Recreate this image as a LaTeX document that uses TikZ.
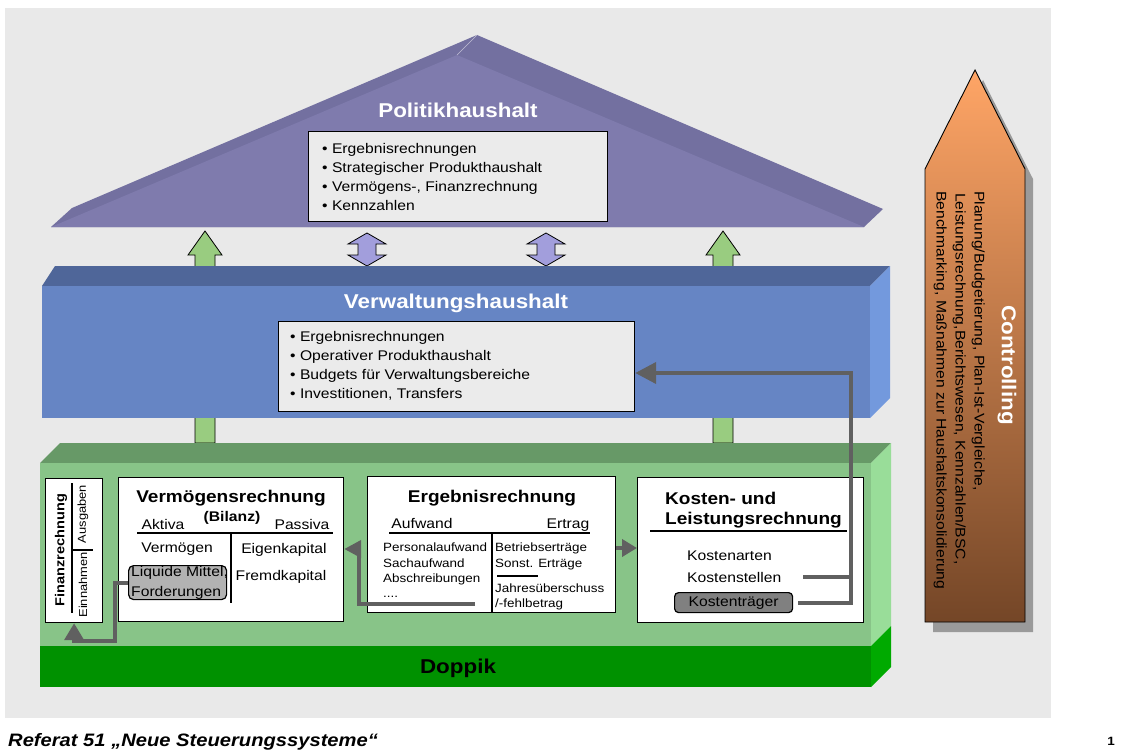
\documentclass[tikz,border=0pt]{standalone}
\usepackage{fontspec}
\setmainfont[FakeStretch=1.12]{Liberation Sans}
\usetikzlibrary{arrows.meta}
\definecolor{bgpanel}{HTML}{E9E9E9}
\definecolor{roofFront}{HTML}{7F7BAD}
\definecolor{roofDark}{HTML}{7370A0}
\definecolor{vFront}{HTML}{6685C4}
\definecolor{vTop}{HTML}{4F6699}
\definecolor{vSide}{HTML}{7399DD}
\definecolor{gFront}{HTML}{88C488}
\definecolor{gTop}{HTML}{679967}
\definecolor{gSide}{HTML}{99DD99}
\definecolor{dFront}{HTML}{009100}
\definecolor{dSide}{HTML}{00AA00}
\definecolor{arrGreen}{HTML}{99CC80}
\definecolor{arrPurple}{HTML}{A29EDC}
\definecolor{connGray}{HTML}{606060}
\definecolor{listBg}{HTML}{EBEBEB}
\definecolor{cTop}{HTML}{FFA566}
\definecolor{cBot}{HTML}{744627}
\definecolor{shadowGray}{HTML}{9A9A9A}
\definecolor{liqGray}{HTML}{B2B2B2}
\definecolor{ktGray}{HTML}{808080}
\newcommand\fsz[1]{\fontsize{#1}{#1}\selectfont}
\begin{document}
\begin{tikzpicture}[x=1pt,y=-1pt,
  wbox/.style={draw=black,fill=white,line width=1.2,inner sep=0,anchor=north west},
  lbox/.style={draw=black,fill=listBg,line width=1.2,inner sep=0,anchor=north west},
  txt/.style={inner sep=0,anchor=west,text height=10,text depth=3,font=\fsz{14}},
  small/.style={inner sep=0,anchor=west,text height=9,text depth=2.5,font=\fsz{12}},
  ctxt/.style={inner sep=0,text height=10,text depth=3,font=\fsz{14}},
  head/.style={inner sep=0,font=\bfseries\fsz{17}},
  bigtitle/.style={inner sep=0,font=\bfseries\fsz{20}},
  thin/.style={draw=black,line width=1.2},
  conn/.style={draw=connGray,line width=4},
  gArr/.style={fill=arrGreen,draw=black,line width=0.8},
  pArr/.style={fill=arrPurple,draw=black,line width=0.8},
  ctr/.style={inner sep=0,anchor=west,rotate=-90,font=\fsz{14},text height=10,text depth=3}
]
\useasboundingbox (0,0) rectangle (1125,752);
\fill[white] (0,0) rectangle (1125,752);
\fill[bgpanel] (5,8) rectangle (1051,718);

% ---------- roof ----------
\fill[roofDark] (51,227) -- (72,208) -- (477,35) -- (883,209) -- (864,227) -- cycle;
\fill[roofFront] (51,227) -- (457,55) -- (864,227) -- cycle;
\draw[white!55!roofDark,line width=0.6] (457,55) -- (477,35);
\node[bigtitle,text=white] (pt) at (458,110) {Politikhaushalt};
\node[lbox,minimum width=299,minimum height=90] (pl) at (308,131) {};
\node[txt] (pl1) at (322,150) {• Ergebnisrechnungen};
\node[txt] (pl2) at (322,169) {• Strategischer Produkthaushalt};
\node[txt] (pl3) at (322,188) {• Vermögens-, Finanzrechnung};
\node[txt] (pl4) at (322,207) {• Kennzahlen};

% ---------- green up arrows (behind blocks) ----------
\foreach \cx in {205,723}{
  \begin{scope}[shift={(\cx,0)}]
    \draw[gArr] (-10,443) -- (-10,255) -- (-17,255) -- (0,231) -- (17,255) -- (10,255) -- (10,443) -- cycle;
  \end{scope}
}
% ---------- purple double arrows ----------
\foreach \cx in {367,546}{
  \begin{scope}[shift={(\cx,0)}]
    \draw[pArr] (0,233) -- (19,244) -- (9,244) -- (9,255) -- (19,255) -- (0,266) -- (-19,255) -- (-9,255) -- (-9,244) -- (-19,244) -- cycle;
  \end{scope}
}

% ---------- Verwaltungshaushalt block ----------
\fill[vTop] (42,286) -- (55,266) -- (890,266) -- (870,286) -- cycle;
\fill[vSide] (870,286) -- (890,266) -- (890,398) -- (870,418) -- cycle;
\fill[vFront] (42,286) rectangle (870,418);
\node[bigtitle,text=white] (vt) at (456,303) {Verwaltungshaushalt};
\node[lbox,minimum width=356,minimum height=90] (vl) at (278,321) {};
\node[txt] (vl1) at (290,338) {• Ergebnisrechnungen};
\node[txt] (vl2) at (290,357) {• Operativer Produkthaushalt};
\node[txt] (vl3) at (290,376) {• Budgets für Verwaltungsbereiche};
\node[txt] (vl4) at (290,395) {• Investitionen, Transfers};

% ---------- green (Doppik) block ----------
\fill[gTop] (40,463) -- (60,443) -- (891,443) -- (871,463) -- cycle;
\fill[gSide] (871,463) -- (891,443) -- (891,626) -- (871,646) -- cycle;
\fill[gFront] (40,463) rectangle (871,646);
\fill[dSide] (871,646) -- (891,626) -- (891,667) -- (871,687) -- cycle;
\fill[dFront] (40,646) rectangle (871,687);
\node[bigtitle] (dop) at (458,668) {Doppik};

% ---------- Finanzrechnung ----------
\node[wbox,minimum width=57,minimum height=144] (fin) at (45,478) {};
\draw[thin] (72,483) -- (72,613);
\draw[thin] (72,550) -- (93,550);
\node[inner sep=0,rotate=90,font=\bfseries\fsz{13}] (fint) at (61,550) {Finanzrechnung};
\node[inner sep=0,rotate=90,font=\fsz{11.5}] (fina) at (83,514) {Ausgaben};
\node[inner sep=0,rotate=90,font=\fsz{11.5}] (fine) at (83,585) {Einnahmen};

% ---------- Vermögensrechnung ----------
\node[wbox,minimum width=225,minimum height=144] (verm) at (118,477) {};
\node[head] (vermt) at (231,498) {Vermögensrechnung};
\node[inner sep=0,font=\bfseries\fsz{14}] (bil) at (232,518) {(Bilanz)};
\node[ctxt] (akt) at (163,526) {Aktiva};
\node[ctxt] (pas) at (302,526) {Passiva};
\draw[thin] (137,533) -- (333,533);
\draw[thin] (231,533) -- (231,603);
\node[ctxt] (vmg) at (177,549) {Vermögen};
\node[ctxt] (eik) at (284,550) {Eigenkapital};
\node[ctxt] (frk) at (281,577) {Fremdkapital};
\node[draw=black,fill=liqGray,line width=1.2,rounded corners=5,inner sep=0,anchor=north west,minimum width=98,minimum height=34] (liq) at (128,565) {};
\node[txt] (liq1) at (131,573) {Liquide Mittel,};
\node[txt] (liq2) at (131,593) {Forderungen};

% ---------- Ergebnisrechnung ----------
\node[wbox,minimum width=248,minimum height=136] (erg) at (367,476) {};
\node[head] (ergt) at (492,498) {Ergebnisrechnung};
\node[ctxt] (auf) at (422,525) {Aufwand};
\node[ctxt] (ert) at (568,525) {Ertrag};
\draw[thin] (389,533) -- (590,533);
\draw[thin] (492,533) -- (492,612);
\node[small] (e1) at (383,548) {Personalaufwand};
\node[small] (e2) at (383,564) {Sachaufwand};
\node[small] (e3) at (383,579) {Abschreibungen};
\node[small] (e4) at (383,594) {....};
\node[small] (r1) at (495,548) {Betriebserträge};
\node[small] (r2) at (495,564) {Sonst. Erträge};
\draw[thin] (497,576) -- (538,576);
\node[small] (r3) at (495,589) {Jahresüberschuss};
\node[small] (r4) at (495,604) {/-fehlbetrag};

% ---------- Kosten- und Leistungsrechnung ----------
\node[wbox,minimum width=226,minimum height=145] (kost) at (637,477) {};
\node[head,anchor=west] (kt1) at (665,498) {Kosten- und};
\node[head,anchor=west] (kt2) at (665,520) {Leistungsrechnung};
\draw[thin] (650,531) -- (847,531);
\node[txt] (ka) at (687,557) {Kostenarten};
\node[txt] (ks) at (687,579) {Kostenstellen};
\node[draw=black,fill=ktGray,line width=1.2,rounded corners=4,inner sep=0,anchor=north west,minimum width=118,minimum height=20] (ktr) at (674,592) {};
\node[ctxt] (ktrt) at (ktr.center) {Kostenträger};

% ---------- connectors ----------
\coordinate (c1) at (115,641);
\draw[conn,-{Triangle[length=17pt,width=19pt]}] (liq.west) -| (c1) -| (fin.south);

\coordinate (eOut) at (475,604);
\coordinate (eUp) at (359,549);
\draw[conn,-{Triangle[length=17pt,width=17pt]}] (eOut) -| (eUp) -- (verm.east |- eUp);

\coordinate (ek) at (0,548);
\draw[conn,-{Triangle[length=15pt,width=17pt]}] (erg.east |- ek) -- (kost.west |- ek);

\coordinate (ktOut) at (798,603);
\coordinate (ksOut) at (803,577);
\coordinate (cc) at (851,373);
\draw[conn] (ksOut) -- (ksOut -| cc);
\draw[conn,-{Triangle[length=21pt,width=21pt]}] (ktOut) -| (cc) -- (vl.east |- cc);

% ---------- Controlling arrow ----------
\fill[shadowGray] (983,80) -- (1033,179) -- (1033,632) -- (933,632) -- (933,179) -- cycle;
\shade[top color=cTop,bottom color=cBot] (975,70) -- (1025,169) -- (1025,622) -- (925,622) -- (925,169) -- cycle;
\draw[black,line width=0.9] (975,70) -- (1025,169) -- (1025,622) -- (925,622) -- (925,169) -- cycle;
\node[inner sep=0,rotate=-90,font=\bfseries\fsz{20},text=white] (ctl) at (1007,365) {Controlling};
\node[ctr] (ct1) at (978,191) {Planung/Budgetierung, Plan-Ist-Vergleiche,};
\node[ctr] (ct2) at (959,193) {Leistungsrechnung,Berichtswesen, Kennzahlen/BSC,};
\node[ctr] (ct3) at (940,191) {Benchmarking, Maßnahmen zur Haushaltskonsolidierung};

% ---------- footer ----------
\node[inner sep=0,anchor=west,font=\bfseries\itshape\fsz{18}] (foot) at (8,742) {Referat 51 „Neue Steuerungssysteme“};
\node[inner sep=0,font=\bfseries\fsz{12}] (pg) at (1111,741) {1};
\end{tikzpicture}
\end{document}
